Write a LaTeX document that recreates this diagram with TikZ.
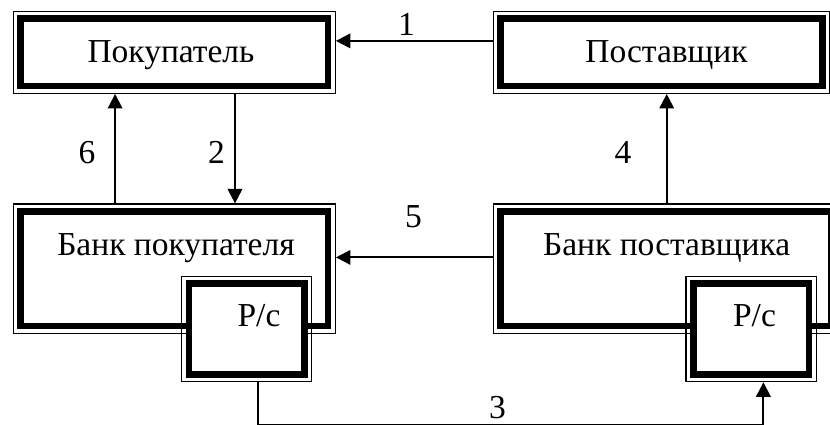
\documentclass[tikz,border=0pt]{standalone}
\usepackage{fontspec}
\setmainfont{Liberation Serif}
\usetikzlibrary{arrows.meta}
\tikzset{
  dframe/.style={draw, line width=1.3pt, inner sep=0pt,
    path picture={
      \fill[white] ([xshift=7.3pt,yshift=7.3pt]path picture bounding box.south west) rectangle ([xshift=-7.3pt,yshift=-7.3pt]path picture bounding box.north east);
      \draw[line width=6.6pt] ([xshift=7.3pt,yshift=7.3pt]path picture bounding box.south west) rectangle ([xshift=-7.3pt,yshift=-7.3pt]path picture bounding box.north east);
    }},
  txt/.style={anchor=base, inner sep=0pt, font=\fontsize{33.5}{40}\selectfont},
  arr/.style={line width=1.9pt, -{Triangle[length=14.5pt,width=14.5pt]}},
}
\begin{document}
\begin{tikzpicture}[x=1pt,y=-1pt]
\useasboundingbox (0,0) rectangle (830,424);
\clip (0,0) rectangle (830,424);
% boxes
\node[dframe, minimum width=322pt, minimum height=82pt] (pok) at (174.2,52.3) {};
\node[dframe, minimum width=336.2pt, minimum height=82pt] (post) at (661.4,52.3) {};
\node[dframe, minimum width=322pt, minimum height=129.3pt] (bb) at (174.3,268.7) {};
\node[dframe, minimum width=345pt, minimum height=129.3pt] (bs) at (665.8,268.7) {};
\node[dframe, minimum width=130pt, minimum height=105.5pt] (pcb) at (246.7,328.9) {};
\node[dframe, minimum width=130.3pt, minimum height=105.5pt] (pcs) at (751.2,328.9) {};
% texts
\node[txt] (tpok) at (171,62.7) {Покупатель};
\node[txt] (tpost) at (666.5,62.7) {Поставщик};
\node[txt] (tbb) at (176,255) {Банк покупателя};
\node[txt] (tbs) at (666.7,255) {Банк поставщика};
\node[txt] (tpcb) at (259,326.7) {Р/с};
\node[txt] (tpcs) at (754.5,326.7) {Р/с};
% connectors
\draw[arr] ([yshift=11.4pt]post.west) -- ([yshift=11.4pt]post.west -| pok.east);
\draw[arr] ([xshift=60.8pt]pok.south) -- ([xshift=60.8pt]pok.south |- bb.north);
\draw[arr] ([xshift=-59.2pt]bb.north) -- ([xshift=-59.2pt]bb.north |- pok.south);
\draw[arr] ([xshift=0.9pt]bs.north) -- ([xshift=0.9pt]bs.north |- post.south);
\draw[arr] ([yshift=11.3pt]bs.west) -- ([yshift=11.3pt]bs.west -| bb.east);
\coordinate (bot) at (500,425.2);
\draw[arr] ([xshift=11.6pt]pcb.south) |- (bot) -| ([xshift=12.2pt]pcs.south);
% labels
\node[txt] (l1) at (406.5,35) {1};
\node[txt] (l2) at (216.5,163) {2};
\node[txt] (l3) at (497.5,418) {3};
\node[txt] (l4) at (623,163) {4};
\node[txt] (l5) at (413.5,227) {5};
\node[txt] (l6) at (87,163) {6};
\end{tikzpicture}
\end{document}
